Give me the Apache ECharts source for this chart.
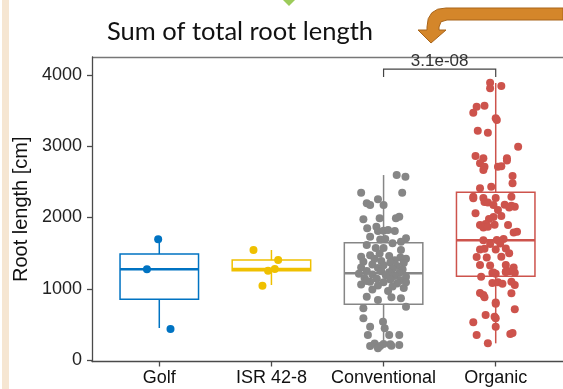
<!DOCTYPE html>
<html>
<head>
<meta charset="utf-8">
<script src="https://cdn.jsdelivr.net/npm/echarts@6/dist/echarts.min.js"></script>
<style>
    html, body { margin: 0; padding: 0; background: #fff; }
    #chart { width: 563px; height: 389px; }
</style>
</head>
<body>
<div id="chart"></div>
<script>
var categories = ['Golf', 'ISR 42-8', 'Conventional', 'Organic'];
var colors = ['#0073C2', '#EFC000', '#868686', '#CD534C'];
var yTicks = [0, 1000, 2000, 3000, 4000];

// low whisker, Q1, median, Q3, high whisker
var boxStats = [
    [449, 852, 1273, 1488, 1642],
    [1053, 1254, 1277, 1404, 1544],
    [190, 781, 1216, 1647, 2596],
    [234, 1175, 1680, 2355, 3888]
];

// [jitter offset in category units, root length]
var golfPoints = [[-0.11, 1273], [-0.01, 1694], [0.10, 435]];
var isrPoints = [[-0.16, 1544], [0.06, 1404], [-0.03, 1254], [0.03, 1277], [-0.08, 1043]];
var conventionalPoints = [
    [0.117, 2596], [0.195, 2573], [-0.2, 2348], [0.166, 2348], [-0.15, 2199], [-0.12, 2175],
    [-0.05, 2255], [0.0, 2175], [-0.18, 1975], [-0.035, 1988], [0.11, 1988], [0.14, 2011],
    [-0.146, 1848], [-0.064, 1871], [-0.05, 1810], [0.0, 1815], [0.04, 1825], [0.1, 1810],
    [-0.12, 1730], [-0.03, 1691], [0.015, 1700], [0.2, 1708], [0.155, 1660], [-0.15, 1614],
    [0.08, 1638], [-0.07, 1572], [0.0, 1572], [0.155, 1544], [-0.035, 1495],
    [-0.2, 1450], [-0.12, 1470], [0.05, 1460], [0.15, 1440], [0.2, 1420], [-0.08, 1420],
    [0.1, 1400], [-0.18, 1380], [-0.02, 1390], [0.06, 1370], [0.18, 1360], [-0.1, 1340],
    [0.0, 1330], [0.12, 1320], [-0.2, 1300], [-0.05, 1290], [0.08, 1280], [0.17, 1270],
    [-0.15, 1250], [-0.02, 1245], [0.05, 1230], [0.14, 1220], [-0.22, 1210], [-0.1, 1200],
    [0.02, 1190], [0.1, 1180], [0.2, 1170], [-0.17, 1150], [-0.06, 1140], [0.06, 1130],
    [0.15, 1120], [-0.12, 1100], [0.0, 1090], [0.12, 1075], [-0.2, 1060], [-0.05, 1045],
    [0.08, 1030], [0.18, 1010], [-0.1, 990], [0.04, 970], [-0.15, 1110], [0.2, 1090],
    [-0.15, 888], [-0.05, 842], [0.07, 880], [0.155, 866], [-0.18, 726], [0.2, 748],
    [-0.18, 585], [-0.005, 538], [-0.12, 467], [0.01, 445], [-0.14, 351], [0.05, 351],
    [0.14, 351], [-0.08, 230], [0.0, 225], [0.06, 220], [-0.12, 196], [-0.03, 196],
    [0.07, 200], [0.14, 210], [-0.05, 164]
];
var organicPoints = [
    [-0.05, 3892], [-0.05, 3813], [0.05, 3846], [-0.17, 3555], [-0.1, 3569], [-0.2, 3471],
    [0.0, 3392], [0.01, 3368], [-0.16, 3218], [-0.07, 3190], [0.2, 2994], [-0.18, 2863],
    [-0.11, 2831], [0.1, 2831], [0.1, 2800], [-0.14, 2760], [-0.1, 2713], [0.02, 2713],
    [0.05, 2720], [-0.11, 2667], [0.15, 2582], [0.15, 2480], [-0.14, 2410], [-0.04, 2432],
    [-0.2, 2290], [-0.11, 2274], [0.0, 2274], [0.14, 2290], [-0.2, 2269], [-0.1, 2217],
    [-0.07, 2210], [-0.02, 2175], [0.08, 2180], [0.14, 2165], [0.17, 2150], [0.12, 2140],
    [0.02, 2105], [-0.18, 2059], [-0.02, 2007], [0.05, 2020], [-0.06, 1980], [-0.14, 1895],
    [-0.09, 1910], [-0.11, 1860], [-0.07, 1870], [-0.01, 1900], [0.11, 1895], [0.16, 1790],
    [0.19, 1800], [0.07, 1700], [0.01, 1684], [-0.11, 1680], [-0.05, 1628], [0.04, 1635],
    [-0.14, 1551], [-0.1, 1560], [0.0, 1551], [0.09, 1565], [-0.17, 1445], [-0.08, 1440],
    [0.05, 1450], [0.12, 1497], [-0.14, 1333], [-0.05, 1325], [0.09, 1333], [0.16, 1300],
    [-0.03, 1221], [0.0, 1210], [0.09, 1239], [0.12, 1245], [-0.13, 1169], [-0.02, 1228],
    [0.09, 1235], [0.17, 1225], [-0.03, 1080], [0.02, 1090], [0.06, 1070], [0.17, 1052],
    [0.14, 1100], [-0.14, 940], [-0.11, 912], [-0.1, 880], [0.14, 936], [0.0, 807],
    [0.0, 790], [0.17, 711], [-0.09, 632], [-0.01, 608], [0.0, 585], [-0.2, 529],
    [0.0, 467], [-0.17, 351], [0.13, 365], [0.15, 380], [-0.07, 234]
];
var groupPoints = [golfPoints, isrPoints, conventionalPoints, organicPoints];

// comparison bracket: from group, to group, foot value, top value
var bracket = [3, 4, 3972, 4084];
var pLabel = '3.1e-08';

var chart = echarts.init(document.getElementById('chart'));

function renderBox(params, api) {
    var x = api.value(0);
    var half = api.size([0.7, 0])[0] / 2;
    var c = colors[params.dataIndex];
    var lo = api.coord([x, api.value(1)]);
    var q1 = api.coord([x, api.value(2)]);
    var md = api.coord([x, api.value(3)]);
    var q3 = api.coord([x, api.value(4)]);
    var hi = api.coord([x, api.value(5)]);
    var cx = lo[0];
    var line = {stroke: c, lineWidth: 1.5};
    return {
        type: 'group',
        children: [
            {type: 'line', shape: {x1: cx, y1: hi[1], x2: cx, y2: q3[1]}, style: line},
            {type: 'line', shape: {x1: cx, y1: q1[1], x2: cx, y2: lo[1]}, style: line},
            {
                type: 'rect',
                shape: {x: cx - half, y: q3[1], width: half * 2, height: q1[1] - q3[1]},
                style: {stroke: c, lineWidth: 1.5, fill: '#fff'}
            },
            {type: 'line', shape: {x1: cx - half, y1: md[1], x2: cx + half, y2: md[1]}, style: {stroke: c, lineWidth: 2.5}}
        ]
    };
}

function renderBracket(params, api) {
    var a = api.coord([api.value(0), api.value(2)]);
    var b = api.coord([api.value(0), api.value(3)]);
    var c = api.coord([api.value(1), api.value(3)]);
    var d = api.coord([api.value(1), api.value(2)]);
    return {
        type: 'group',
        children: [
            {type: 'polyline', shape: {points: [a, b, c, d]}, style: {stroke: '#444', lineWidth: 1.2, fill: 'none'}},
            {
                type: 'text',
                x: (b[0] + c[0]) / 2,
                y: b[1] - 8,
                style: {
                    text: pLabel, fill: '#333', font: '17px "Liberation Sans", Arial, sans-serif',
                    align: 'center', verticalAlign: 'middle'
                }
            }
        ]
    };
}

var series = [{
    type: 'custom',
    renderItem: renderBox,
    data: boxStats.map(function (s, i) { return [i + 1].concat(s); }),
    encode: {x: 0, y: [1, 2, 3, 4, 5]},
    silent: true
}];
groupPoints.forEach(function (pts, i) {
    series.push({
        type: 'scatter',
        symbolSize: 8,
        itemStyle: {color: colors[i], opacity: 1},
        data: pts.map(function (p) { return [i + 1 + p[0], p[1]]; }),
        silent: true
    });
});
series.push({
    type: 'custom',
    renderItem: renderBracket,
    clip: false,
    data: [bracket],
    encode: {x: [0, 1], y: [2, 3]},
    silent: true
});

chart.setOption({
    animation: false,
    grid: {left: 92, top: 57, width: 480, height: 304.5},
    xAxis: {
        type: 'value',
        min: 0.4,
        max: 4.6,
        axisLine: {onZero: false, lineStyle: {color: '#4a4a4a', width: 1.3}},
        axisTick: {show: true, length: 5, customValues: [1, 2, 3, 4], lineStyle: {color: '#4a4a4a', width: 1.3}},
        axisLabel: {
            customValues: [1, 2, 3, 4],
            margin: 8,
            color: '#111',
            fontSize: 18,
            fontFamily: '"Liberation Sans", Arial, sans-serif',
            formatter: function (v) { return categories[Math.round(v) - 1]; }
        },
        splitLine: {show: false}
    },
    yAxis: {
        type: 'value',
        min: -21,
        max: 4253,
        name: 'Root length [cm]',
        nameLocation: 'middle',
        nameGap: 56,
        nameTextStyle: {color: '#111', fontSize: 20, fontFamily: '"Liberation Sans", Arial, sans-serif'},
        axisLine: {show: true, lineStyle: {color: '#4a4a4a', width: 1.3}},
        axisTick: {show: true, length: 5, customValues: yTicks, lineStyle: {color: '#4a4a4a', width: 1.3}},
        axisLabel: {
            customValues: yTicks,
            margin: 10,
            color: '#222',
            fontSize: 18,
            fontFamily: '"Liberation Sans", Arial, sans-serif',
            formatter: function (v) { return String(v); }
        },
        splitLine: {show: false}
    },
    graphic: [
        {type: 'rect', shape: {x: 2, y: 0, width: 7, height: 389}, style: {fill: '#F6E6D2'}},
        {type: 'polygon', shape: {points: [[283, 0], [295, 0], [289, 6]]}, style: {fill: '#9CCB5A'}},
        {type: 'line', shape: {x1: 92, y1: 57.5, x2: 563, y2: 57.5}, style: {stroke: '#777', lineWidth: 1.5}},
        {
            type: 'text', x: 107, y: 32,
            style: {
                text: 'Sum of total root length', fill: '#111',
                font: '25.5px Lato, "Open Sans", sans-serif', verticalAlign: 'middle'
            }
        },
        {
            type: 'polygon',
            shape: {
                points: [
                    [563, 8], [446, 8], [437.7, 9.2], [431.8, 12.8], [428.2, 18.7], [427, 27],
                    [427, 30], [418, 30], [431, 43], [446, 30], [439, 30], [439, 27],
                    [441, 21.8], [447, 20], [563, 20]
                ]
            },
            style: {fill: '#D4862A', stroke: '#A8641A', lineWidth: 1}
        }
    ],
    series: series
});
</script>
</body>
</html>
